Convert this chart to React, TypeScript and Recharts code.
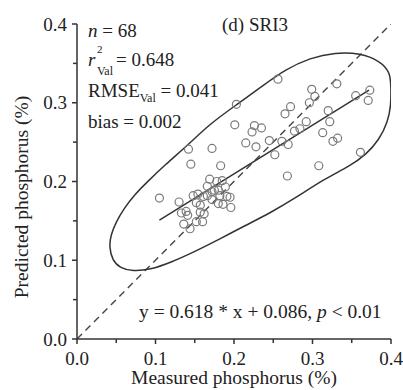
import { ComposedChart, Scatter, Line, XAxis, YAxis } from "recharts";

// measured vs predicted phosphorus (%), validation set (n = 68)
const MEASURED = [
    0.256, 0.203, 0.299, 0.331, 0.303, 0.296, 0.355, 0.373, 0.371, 0.272,
    0.265, 0.320, 0.322, 0.292, 0.284, 0.277, 0.313, 0.326, 0.332, 0.361,
    0.308, 0.268, 0.201, 0.226, 0.235, 0.223, 0.215, 0.228, 0.245, 0.261,
    0.269, 0.252, 0.172, 0.183, 0.142, 0.145, 0.105, 0.130, 0.133, 0.139,
    0.157, 0.157, 0.160, 0.152, 0.136, 0.144, 0.148, 0.154, 0.161, 0.169,
    0.178, 0.180, 0.189, 0.182, 0.191, 0.166, 0.172, 0.180, 0.186, 0.196,
    0.172, 0.152, 0.175, 0.195, 0.166, 0.141, 0.185, 0.162
];
const PREDICTED = [
    0.330, 0.298, 0.317, 0.324, 0.308, 0.300, 0.309, 0.316, 0.303, 0.295,
    0.286, 0.290, 0.276, 0.276, 0.267, 0.264, 0.262, 0.251, 0.255, 0.237,
    0.220, 0.207, 0.272, 0.271, 0.268, 0.263, 0.249, 0.244, 0.252, 0.251,
    0.247, 0.234, 0.242, 0.220, 0.241, 0.222, 0.179, 0.174, 0.160, 0.162,
    0.170, 0.161, 0.149, 0.149, 0.146, 0.140, 0.182, 0.184, 0.181, 0.203,
    0.200, 0.189, 0.193, 0.182, 0.181, 0.182, 0.177, 0.172, 0.171, 0.167,
    0.187, 0.173, 0.189, 0.180, 0.194, 0.157, 0.201, 0.159
];

// confidence ellipse outline
const ELLIPSE_X = [
    0.041, 0.043, 0.050, 0.060, 0.074, 0.089, 0.112, 0.141, 0.169, 0.204,
    0.236, 0.265, 0.297, 0.329, 0.361, 0.386, 0.399, 0.400, 0.400, 0.396,
    0.385, 0.368, 0.348, 0.313, 0.280, 0.246, 0.214, 0.182, 0.150, 0.119,
    0.093, 0.071, 0.055, 0.045
];
const ELLIPSE_Y = [
    0.117, 0.132, 0.149, 0.166, 0.184, 0.199, 0.221, 0.246, 0.273, 0.298,
    0.321, 0.342, 0.357, 0.364, 0.363, 0.353, 0.339, 0.319, 0.297, 0.276,
    0.253, 0.234, 0.220, 0.202, 0.180, 0.160, 0.144, 0.127, 0.111, 0.097,
    0.088, 0.086, 0.090, 0.100
];

const FIT_SLOPE = 0.618;
const FIT_INTERCEPT = 0.086;
const FIT_X = [0.105, 0.372];
const ONE_TO_ONE = [0, 0.4];

const X_TICKS = [0, 0.05, 0.1, 0.15, 0.2, 0.25, 0.3, 0.35, 0.4];
const Y_TICKS = [0, 0.05, 0.1, 0.15, 0.2, 0.25, 0.3, 0.35, 0.4];

const points = MEASURED.map((x, i) => ({ x, y: PREDICTED[i] }));
const ellipse = ELLIPSE_X.map((x, i) => ({ x, y: ELLIPSE_Y[i] }));
const fit = FIT_X.map((x) => ({ x, y: FIT_SLOPE * x + FIT_INTERCEPT }));
const diag = ONE_TO_ONE.map((v) => ({ x: v, y: v }));

const FONT = "Liberation Serif";
const INK = "#333";

const isMajor = (v: number) => Math.round(v * 100) % 10 === 0;

const XTick = ({ x, y, payload }: any) => (
    <g>
        <line x1={x} x2={x} y1={y} y2={y + (isMajor(payload.value) ? 5 : 4)} stroke={INK} strokeWidth={1.5} />
        {isMajor(payload.value) && (
            <text x={x} y={y + 26} textAnchor="middle" fontFamily={FONT} fontSize={19} fill="#222">
                {payload.value.toFixed(1)}
            </text>
        )}
    </g>
);

const YTick = ({ x, y, payload }: any) => (
    <g>
        <line x1={x} x2={x - (isMajor(payload.value) ? 5 : 4)} y1={y} y2={y} stroke={INK} strokeWidth={1.5} />
        {isMajor(payload.value) && (
            <text x={x - 10} y={y + 6.5} textAnchor="end" fontFamily={FONT} fontSize={19} fill="#222">
                {payload.value.toFixed(1)}
            </text>
        )}
    </g>
);

const Ring = ({ cx, cy }: any) => (
    <circle cx={cx} cy={cy} r={4} fill="none" stroke="#7a7a7a" strokeWidth={1.2} />
);

export default function App() {
    return (
        <div style={{ position: "absolute", left: 0, top: 0, width: 403, height: 390, background: "#fff" }}>
            <ComposedChart width={403} height={390} margin={{ top: 24, right: 12, bottom: 0, left: 0 }}>
                <XAxis
                    type="number"
                    dataKey="x"
                    domain={[0, 0.4]}
                    ticks={X_TICKS}
                    interval={0}
                    allowDataOverflow
                    height={51}
                    tickSize={0}
                    tickMargin={0}
                    tickLine={false}
                    tick={<XTick />}
                    axisLine={{ stroke: INK, strokeWidth: 1.5 }}
                />
                <YAxis
                    type="number"
                    dataKey="y"
                    domain={[0, 0.4]}
                    ticks={Y_TICKS}
                    interval={0}
                    allowDataOverflow
                    width={77}
                    tickSize={0}
                    tickMargin={0}
                    tickLine={false}
                    tick={<YTick />}
                    axisLine={{ stroke: INK, strokeWidth: 1.5 }}
                />
                <Line data={diag} dataKey="y" type="linear" stroke="#444" strokeWidth={1.4}
                      strokeDasharray="7 5" dot={false} isAnimationActive={false} />
                <Line data={ellipse} dataKey="y" type="basisClosed" stroke={INK} strokeWidth={1.5}
                      dot={false} isAnimationActive={false} />
                <Line data={fit} dataKey="y" type="linear" stroke={INK} strokeWidth={1.5}
                      dot={false} isAnimationActive={false} />
                <Scatter data={points} shape={<Ring />} isAnimationActive={false} />

                <text x={222} y={31} fontFamily={FONT} fontSize={19} fill="#222">(d) SRI3</text>
                <text x={88} y={37} fontFamily={FONT} fontSize={19} fill="#222">
                    <tspan fontStyle="italic">n</tspan> = 68
                </text>
                <text x={88} y={66} fontFamily={FONT} fontSize={19} fill="#222">
                    <tspan fontStyle="italic">r</tspan>
                </text>
                <text x={97} y={53} fontFamily={FONT} fontSize={11} fill="#222">2</text>
                <text x={97} y={75} fontFamily={FONT} fontSize={12} fill="#222">Val</text>
                <text x={116} y={66} fontFamily={FONT} fontSize={19} fill="#222">= 0.648</text>
                <text x={88} y={97} fontFamily={FONT} fontSize={19} fill="#222">
                    RMSE<tspan fontSize={12} dy={5}>Val</tspan>
                    <tspan dy={-5}> = 0.041</tspan>
                </text>
                <text x={88} y={128} fontFamily={FONT} fontSize={19} fill="#222">bias = 0.002</text>
                <text x={139} y={318} fontFamily={FONT} fontSize={19.5} fill="#222">
                    y = 0.618 * x + 0.086, <tspan fontStyle="italic">p</tspan> &lt; 0.01
                </text>
                <text x={234} y={384} textAnchor="middle" fontFamily={FONT} fontSize={19.5} fill="#222">
                    Measured phosphorus (%)
                </text>
                <text transform="rotate(-90)" x={-197} y={28} textAnchor="middle" fontFamily={FONT} fontSize={19.5} fill="#222">
                    Predicted phosphorus (%)
                </text>
            </ComposedChart>
        </div>
    );
}
